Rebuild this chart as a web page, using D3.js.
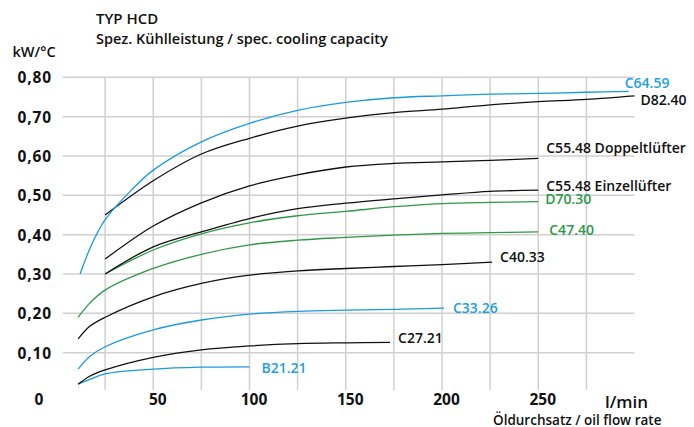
<!DOCTYPE html>
<html>
<head>
<meta charset="utf-8">
<script src="https://cdn.jsdelivr.net/npm/d3@7"></script>
<style>
  html, body { margin: 0; padding: 0; background: #fff; }
  svg { display: block; font-family: "Open Sans", sans-serif; }
</style>
</head>
<body>
<svg id="chart" width="694" height="427"></svg>
<script>
// ---- data ----
const seriesNames = ["B21.21", "C27.21", "C33.26", "C40.33", "C47.40", "D70.30",
  "C55.48 Einzellüfter", "C55.48 Doppeltlüfter", "D82.40", "C64.59"];
const seriesGroup = ["blue", "black", "blue", "black", "green", "green", "black", "black", "black", "blue"];

const xB2121 = [11, 17, 25, 50, 75, 100];
const yB2121 = [0.020, 0.032, 0.046, 0.058, 0.063, 0.064];
const xC2721 = [11, 17, 25, 50, 75, 100, 125, 150, 173];
const yC2721 = [0.020, 0.040, 0.056, 0.088, 0.107, 0.117, 0.123, 0.125, 0.126];
const xC3326 = [11, 17, 25, 50, 75, 100, 125, 150, 175, 201];
const yC3326 = [0.058, 0.090, 0.115, 0.158, 0.183, 0.198, 0.205, 0.208, 0.210, 0.213];
const xC4033 = [11, 17, 25, 50, 75, 100, 125, 150, 175, 200, 226];
const yC4033 = [0.135, 0.167, 0.190, 0.242, 0.276, 0.297, 0.308, 0.314, 0.319, 0.324, 0.330];
const xC4740 = [11, 17, 25, 50, 75, 100, 125, 150, 175, 200, 225, 250];
const yC4740 = [0.190, 0.226, 0.259, 0.314, 0.350, 0.374, 0.386, 0.393, 0.399, 0.403, 0.405, 0.407];
const xD7030 = [25, 50, 75, 100, 125, 150, 175, 200, 225, 250];
const yD7030 = [0.300, 0.361, 0.402, 0.430, 0.448, 0.459, 0.471, 0.479, 0.482, 0.484];
const xC5548E = [25, 50, 75, 100, 125, 150, 175, 200, 225, 250];
const yC5548E = [0.300, 0.369, 0.407, 0.441, 0.466, 0.480, 0.491, 0.501, 0.510, 0.513];
const xC5548D = [25, 50, 75, 100, 125, 150, 175, 200, 225, 250];
const yC5548D = [0.338, 0.422, 0.481, 0.524, 0.552, 0.572, 0.581, 0.585, 0.589, 0.594];
const xD8240 = [25, 50, 75, 100, 125, 150, 175, 200, 225, 250, 275, 300];
const yD8240 = [0.450, 0.537, 0.605, 0.645, 0.676, 0.696, 0.710, 0.719, 0.730, 0.738, 0.744, 0.753];
const xC6459 = [12, 18, 25, 37, 50, 75, 100, 125, 150, 175, 200, 225, 250, 275, 297];
const yC6459 = [0.300, 0.375, 0.438, 0.505, 0.564, 0.636, 0.683, 0.716, 0.736, 0.748, 0.753, 0.757, 0.759, 0.762, 0.764];

const xTicks = [50, 100, 150, 200, 250];
const yTicks = [0.1, 0.2, 0.3, 0.4, 0.5, 0.6, 0.7, 0.8];
const xGrid = [25, 50, 75, 100, 125, 150, 175, 200, 225, 250, 275];

const titleText = "TYP HCD";
const subtitleText = "Spez. Kühlleistung / spec. cooling capacity";
const yUnitText = "kW/°C";
const xUnitText = "l/min";
const xTitleText = "Öldurchsatz / oil flow rate";

// ---- build ----
const xsData = [xB2121, xC2721, xC3326, xC4033, xC4740, xD7030, xC5548E, xC5548D, xD8240, xC6459];
const ysData = [yB2121, yC2721, yC3326, yC4033, yC4740, yD7030, yC5548E, yC5548D, yD8240, yC6459];
const series = seriesNames.map((n, i) => ({
  name: n, group: seriesGroup[i],
  pts: xsData[i].map((x, j) => ({ x, y: ysData[i][j] }))
}));

// label offsets (px) of label start / vertical centre relative to the line end
const labelOffset = {
  "B21.21": [12, 1.6], "C27.21": [8, -4], "C33.26": [9, 0], "C40.33": [8, -5],
  "C47.40": [11, -2], "D70.30": [7, -2.4], "C55.48 Einzellüfter": [8, -4.5],
  "C55.48 Doppeltlüfter": [8, -10], "D82.40": [6, 4], "C64.59": [-4, -8]
};
const colors = { blue: "#1a9bdb", green: "#2f9747", black: "#111111" };
const labelColors = { blue: "#1fa0de", green: "#2f9a4a", black: "#111111" };

const svg = d3.select("#chart");
const x = d3.scaleLinear().domain([0, 300]).range([57, 634.5]);
const y = d3.scaleLinear().domain([0, 0.8]).range([392, 77.3]);

// grid
svg.append("g").selectAll("line").data(yTicks).join("line")
  .attr("x1", x(3)).attr("x2", x(300)).attr("y1", d => y(d)).attr("y2", d => y(d))
  .attr("stroke", "#d0d0d0").attr("stroke-width", 1.5);
svg.append("g").selectAll("line").data(xGrid).join("line")
  .attr("x1", d => x(d)).attr("x2", d => x(d)).attr("y1", y(0.8)).attr("y2", y(0.005))
  .attr("stroke", "#d0d0d0").attr("stroke-width", 1.5);

// axes
const yAxis = svg.append("g").attr("transform", `translate(${x(0)},0)`)
  .call(d3.axisLeft(y).tickValues(yTicks).tickSize(0).tickPadding(5)
    .tickFormat(d => d3.format(".2f")(d).replace(".", ",")));
yAxis.select(".domain").remove();
yAxis.selectAll("text").attr("font-family", "Open Sans").attr("font-weight", 700)
  .attr("font-size", 15.5).attr("letter-spacing", 0.9).attr("fill", "#111").attr("dy", "0.36em");

const xAxis = svg.append("g").attr("transform", `translate(0,${y(0)})`)
  .call(d3.axisBottom(x).tickValues(xTicks).tickSize(0).tickFormat(d3.format("d")));
xAxis.select(".domain").remove();
xAxis.selectAll("text").attr("font-family", "Open Sans").attr("font-weight", 700)
  .attr("font-size", 15.5).attr("fill", "#111").attr("y", 13).attr("dy", 0).attr("dx", 4);

svg.append("text").attr("x", x(0) - 18).attr("y", y(0) + 13).attr("text-anchor", "middle")
  .attr("font-weight", 700).attr("font-size", 15.5).attr("fill", "#111").text("0");

// lines
const line = d3.line().x(d => x(d.x)).y(d => y(d.y)).curve(d3.curveCatmullRom.alpha(0.5));
svg.append("g").selectAll("path").data(series).join("path")
  .attr("d", d => line(d.pts)).attr("fill", "none")
  .attr("stroke", d => colors[d.group]).attr("stroke-width", 1.3);

// labels
svg.append("g").selectAll("text").data(series).join("text")
  .attr("x", d => x(d.pts[d.pts.length - 1].x) + labelOffset[d.name][0])
  .attr("y", d => y(d.pts[d.pts.length - 1].y) + labelOffset[d.name][1] + 5)
  .attr("font-size", 14).attr("font-weight", 600)
  .attr("fill", d => labelColors[d.group]).text(d => d.name);

// titles
svg.append("text").attr("x", 96).attr("y", 24).attr("font-size", 15).attr("font-weight", 600)
  .attr("fill", "#111").text(titleText);
svg.append("text").attr("x", 96).attr("y", 44).attr("font-size", 14.5).attr("font-weight", 600)
  .attr("fill", "#111").text(subtitleText);
svg.append("text").attr("x", 12.5).attr("y", 57).attr("font-size", 14.5).attr("font-weight", 600)
  .attr("fill", "#111").text(yUnitText);
svg.append("text").attr("x", 605).attr("y", 408).attr("font-size", 17).attr("font-weight", 600)
  .attr("fill", "#111").text(xUnitText);
svg.append("text").attr("x", 493).attr("y", 425).attr("font-size", 13.5).attr("font-weight", 600)
  .attr("fill", "#111").text(xTitleText);
</script>
</body>
</html>
